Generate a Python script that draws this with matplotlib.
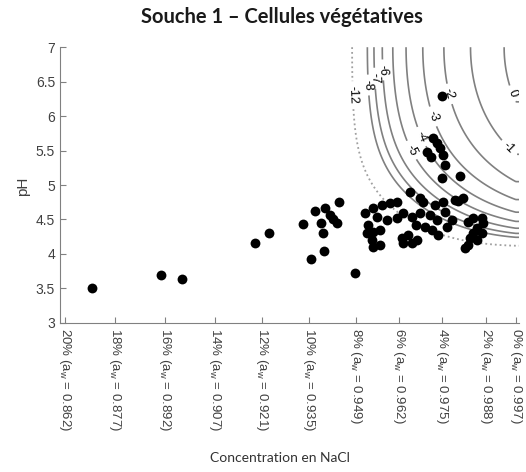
import numpy as np
import matplotlib.pyplot as plt

plt.rcParams['axes.unicode_minus'] = False
plt.rcParams['mathtext.fontset'] = 'custom'
plt.rcParams['mathtext.rm'] = 'Liberation Sans'
plt.rcParams['font.family'] = 'Liberation Sans'

# observed growth conditions (water activity, pH)
aw_obs = [0.8702, 0.8909, 0.8971, 0.9189, 0.9231, 0.9332, 0.9357, 0.9368, 0.9395,
          0.9393, 0.9386, 0.9400, 0.9413, 0.9423, 0.9435, 0.9441, 0.9489,
          0.9748,
          0.9722, 0.9734, 0.9743, 0.9704, 0.9716, 0.9752, 0.9757, 0.9748, 0.9802,
          0.9653, 0.9683, 0.9692, 0.9728, 0.9752, 0.9787, 0.9811, 0.9796,
          0.9518, 0.9542, 0.9569, 0.9593, 0.9614, 0.9554, 0.9584, 0.9614, 0.9632,
          0.9659, 0.9683, 0.9713, 0.9734, 0.9757,
          0.9527, 0.9542, 0.9524, 0.9563, 0.9539, 0.9563, 0.9542,
          0.9629, 0.9647, 0.9632, 0.9659, 0.9674,
          0.9671, 0.9698, 0.9737, 0.9763, 0.9778, 0.9719,
          0.9826, 0.9841, 0.9868, 0.9871, 0.9853, 0.9868, 0.9841, 0.9832, 0.9853,
          0.9826, 0.9817]
ph_obs = [3.51, 3.70, 3.63, 4.155, 4.30, 4.435, 3.93, 4.62, 4.04,
          4.31, 4.445, 4.66, 4.565, 4.50, 4.445, 4.76, 3.72,
          6.29,
          5.68, 5.61, 5.54, 5.48, 5.41, 5.43, 5.29, 5.10, 5.13,
          4.90, 4.81, 4.75, 4.71, 4.75, 4.78, 4.81, 4.77,
          4.59, 4.67, 4.71, 4.74, 4.75, 4.54, 4.49, 4.52, 4.59,
          4.54, 4.59, 4.57, 4.49, 4.61,
          4.42, 4.32, 4.30, 4.35, 4.20, 4.13, 4.10,
          4.23, 4.28, 4.16, 4.16, 4.20,
          4.42, 4.39, 4.28, 4.39, 4.49, 4.35,
          4.46, 4.52, 4.52, 4.45, 4.38, 4.30, 4.30, 4.23, 4.20,
          4.13, 4.09]

# x axis: NaCl concentration and the matching water activity
nacl_pct = [20, 18, 16, 14, 12, 10, 8, 6, 4, 2, 0]
aw_ticks = [0.862, 0.877, 0.892, 0.907, 0.921, 0.935, 0.949, 0.962, 0.975, 0.988, 0.997]

# model contour levels
levels = [-12, -8, -7, -6, -5, -4, -3, -2, -1, 0]

# secondary model parameters (cardinal type + interaction)
aw_min, aw_opt, k_aw = 0.945, 0.997, 4.3
ph_min, ph_opt, k_ph = 4.05, 7.0, 4.0
z_max, c_int = 0.3, 0.007

aw = np.linspace(0.8605, 0.998, 500)
ph = np.linspace(3, 7, 500)
AW, PH = np.meshgrid(aw, ph)
d_aw = k_aw * np.log((aw_opt - aw_min) / np.clip(AW - aw_min, 1e-7, None))
d_aw = np.clip(d_aw, 0, None)
t = (ph_opt - PH) / (ph_opt - ph_min)
d_ph = -k_ph * np.log(np.clip(1 - t ** 2, 1e-9, None))
Z = z_max - d_aw - d_ph - c_int * (d_aw * d_ph) ** 2
Z = np.clip(Z, -40, None)

fig = plt.figure(figsize=(5.26, 4.72), dpi=100)
ax = fig.add_axes([0.114, 0.316, 0.873, 0.584])

cs = ax.contour(AW, PH, Z, levels=levels[1:], colors='#808080', linewidths=1.2,
                linestyles='solid')
cs12 = ax.contour(AW, PH, Z, levels=levels[:1], colors='#a0a0a0',
                  linestyles=':', linewidths=1.3)
ax.clabel(cs, fmt='%d', fontsize=9, colors='k',
          manual=[(0.9524, 6.45), (0.9548, 6.55), (0.9572, 6.67), (0.9647, 5.48),
                  (0.9677, 5.68), (0.9707, 5.97), (0.9752, 6.30), (0.9952, 5.55),
                  (0.9961, 6.33)])
ax.clabel(cs12, fmt='%d', fontsize=9, colors='k', manual=[(0.9458, 6.30)])

ax.scatter(aw_obs, ph_obs, s=50, c='k', lw=0, zorder=3)

ax.set_xlim(0.8605, 0.998)
ax.set_ylim(3, 7)
ax.set_yticks([3, 3.5, 4, 4.5, 5, 5.5, 6, 6.5, 7])
ax.set_yticklabels(['3', '3.5', '4', '4.5', '5', '5.5', '6', '6.5', '7'])
ax.set_xticks(aw_ticks)
ax.set_xticklabels([f'{n}% (a$_\\mathregular{{w}}$ = {a:.3f})' for n, a in zip(nacl_pct, aw_ticks)],
                   rotation=270, ha='center', va='top', fontsize=9.5)
for s in ['top', 'right']:
    ax.spines[s].set_visible(False)
for s in ['left', 'bottom']:
    ax.spines[s].set_color('#808080')
ax.tick_params(direction='in', length=4, color='#808080', labelcolor='#404040')
ax.tick_params(axis='y', labelsize=10)

fig.text(0.536, 0.964, 'Souche 1 – Cellules végétatives', ha='center', va='center',
         fontsize=14.5, fontweight='bold', family='Lato', color='#1a1a1a')
fig.text(0.532, 0.03, 'Concentration en NaCl', ha='center', va='center',
         fontsize=10, family='Lato', color='#333333')
fig.text(0.043, 0.605, 'pH', rotation=90, ha='center', va='center',
         fontsize=11, color='#404040')

fig.savefig('out.png', dpi=100)
